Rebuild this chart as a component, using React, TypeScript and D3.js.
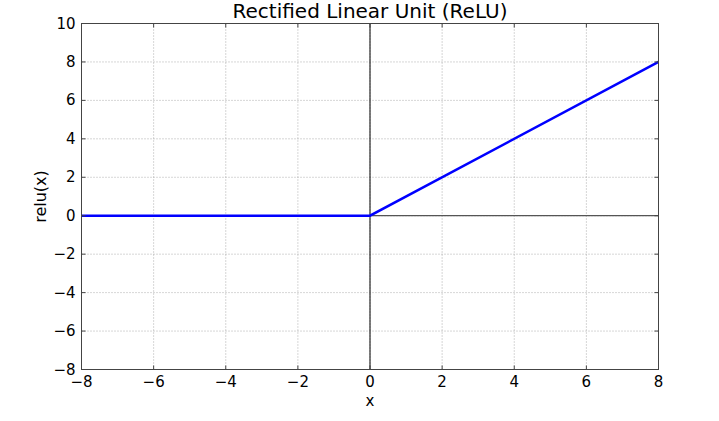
import * as React from "react";
import * as d3 from "d3";

const xValues = [-8, 0, 8];
const reluValues = [0, 0, 8];
const xTicks = [-8, -6, -4, -2, 0, 2, 4, 6, 8];
const yTicks = [-8, -6, -4, -2, 0, 2, 4, 6, 8, 10];

const fmt = (v: number) => (v < 0 ? "\u2212" + Math.abs(v) : String(v));

const App = () => {
  const width = 719;
  const height = 421;
  const m = { left: 81.5, right: 658.5, top: 23.5, bottom: 369.5 };

  const x = d3.scaleLinear().domain([-8, 8]).range([m.left, m.right]);
  const y = d3.scaleLinear().domain([-8, 10]).range([m.bottom, m.top]);

  const line = d3
    .line<number>()
    .x((d) => x(d))
    .y((d, i) => y(reluValues[i]));

  const font = "'DejaVu Sans', sans-serif";

  return (
    <div style={{ position: "absolute", left: 0, top: 0 }}>
      <svg width={width} height={height} style={{ display: "block", background: "#fff" }}>
        {/* grid */}
        <g stroke="#999" strokeWidth={0.8} strokeDasharray="1,2">
          {xTicks.slice(1, -1).map((t) => (
            <line key={"gx" + t} x1={x(t)} x2={x(t)} y1={m.top} y2={m.bottom} />
          ))}
          {yTicks.slice(1, -1).map((t) => (
            <line key={"gy" + t} x1={m.left} x2={m.right} y1={y(t)} y2={y(t)} />
          ))}
        </g>

        {/* zero lines */}
        <line x1={m.left} x2={m.right} y1={y(0)} y2={y(0)} stroke="#555" strokeWidth={1.2} />
        <line x1={x(0)} x2={x(0)} y1={m.top} y2={m.bottom} stroke="#000" strokeWidth={1} />

        {/* relu curve */}
        <path d={line(xValues) ?? ""} fill="none" stroke="#0000ff" strokeWidth={2.5} />

        {/* frame */}
        <rect
          x={m.left}
          y={m.top}
          width={m.right - m.left}
          height={m.bottom - m.top}
          fill="none"
          stroke="#444"
          strokeWidth={1}
        />

        {/* ticks */}
        <g stroke="#444" strokeWidth={1}>
          {xTicks.map((t) => (
            <React.Fragment key={"tx" + t}>
              <line x1={x(t)} x2={x(t)} y1={m.bottom} y2={m.bottom - 4} />
              <line x1={x(t)} x2={x(t)} y1={m.top} y2={m.top + 4} />
            </React.Fragment>
          ))}
          {yTicks.map((t) => (
            <React.Fragment key={"ty" + t}>
              <line x1={m.left} x2={m.left + 4} y1={y(t)} y2={y(t)} />
              <line x1={m.right} x2={m.right - 4} y1={y(t)} y2={y(t)} />
            </React.Fragment>
          ))}
        </g>

        {/* tick labels */}
        <g fontFamily={font} fontSize={15} fill="#000">
          {xTicks.map((t) => (
            <text key={"lx" + t} x={x(t)} y={m.bottom + 17} textAnchor="middle">
              {fmt(t)}
            </text>
          ))}
          {yTicks.map((t) => (
            <text key={"ly" + t} x={m.left - 6} y={y(t) + 5} textAnchor="end">
              {fmt(t)}
            </text>
          ))}
        </g>

        {/* labels */}
        <text x={(m.left + m.right) / 2} y={18} textAnchor="middle" fontFamily={font} fontSize={20}>
          Rectified Linear Unit (ReLU)
        </text>
        <text x={(m.left + m.right) / 2} y={406} textAnchor="middle" fontFamily={font} fontSize={15}>
          x
        </text>
        <text
          transform={`translate(46,${(m.top + m.bottom) / 2}) rotate(-90)`}
          textAnchor="middle"
          fontFamily={font}
          fontSize={16}
        >
          relu(x)
        </text>
      </svg>
    </div>
  );
};

export default App;
